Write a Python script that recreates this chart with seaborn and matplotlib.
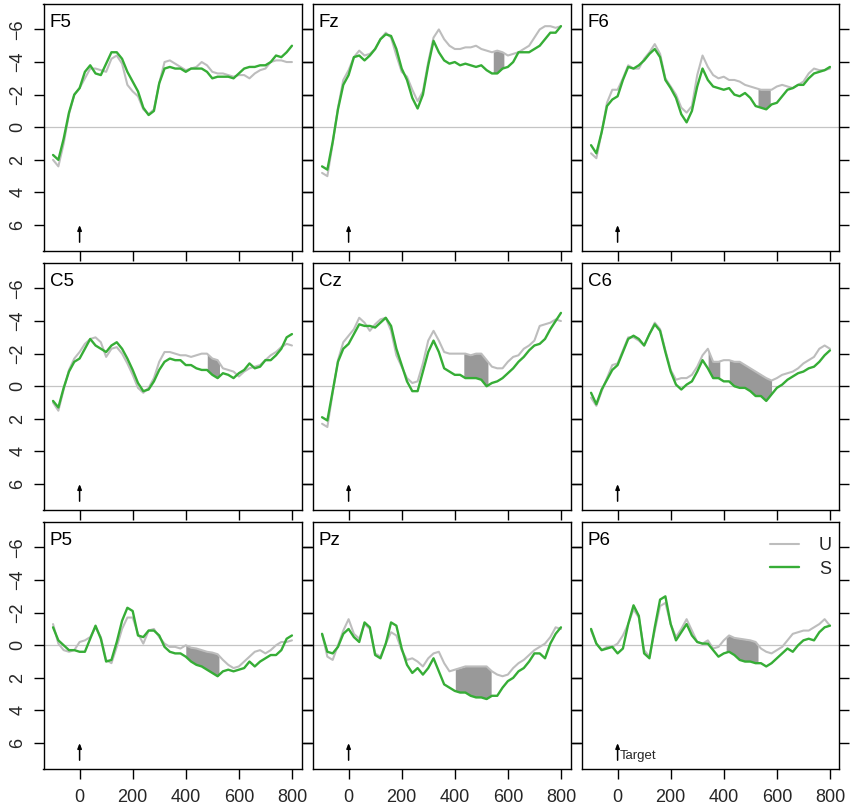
import numpy as np
import pandas as pd
import matplotlib
matplotlib.use("Agg")
import matplotlib.pyplot as plt
import seaborn as sns
from matplotlib.lines import Line2D

# ---------------- data ----------------
times = list(range(-100, 801, 20))
electrodes = ["F5", "Fz", "F6", "C5", "Cz", "C6", "P5", "Pz", "P6"]

F5_U = [2.0, 2.4, 1.0, -0.8, -2.0, -2.4,
        -3.0, -3.6, -3.6, -3.5, -3.4, -4.2, -4.4, -3.9, -2.6, -2.2,
        -1.9, -1.1, -0.8, -1.1, -2.7, -4.0, -4.1, -3.9, -3.7, -3.5,
        -3.6, -3.7, -4.0, -3.8, -3.4, -3.3, -3.3, -3.2, -3.1, -3.2,
        -3.2, -3.0, -3.3, -3.5, -3.6, -4.0, -4.1, -4.1, -4.0, -4.0]
F5_S = [1.7, 2.0, 0.7, -0.9, -2.0, -2.4,
        -3.4, -3.8, -3.3, -3.2, -3.9, -4.6, -4.6, -4.2, -3.4, -2.8,
        -2.2, -1.2, -0.75, -1.0, -2.7, -3.6, -3.7, -3.6, -3.6, -3.4,
        -3.6, -3.6, -3.6, -3.4, -3.0, -3.1, -3.1, -3.1, -3.0, -3.3,
        -3.6, -3.7, -3.7, -3.8, -3.8, -4.0, -4.4, -4.3, -4.6, -5.0]

Fz_U = [2.8, 3.0, 1.0, -1.2, -2.9, -3.5,
        -4.3, -4.7, -4.4, -4.5, -4.8, -5.4, -5.8, -5.5, -4.4, -3.4,
        -3.1, -2.3, -1.6, -2.2, -4.0, -5.5, -6.0, -5.4, -5.0, -4.8,
        -4.8, -4.9, -4.9, -5.0, -4.8, -4.7, -4.6, -4.7, -4.6, -4.4,
        -4.5, -4.6, -4.8, -5.0, -5.5, -6.0, -6.2, -6.2, -6.1, -6.2]
Fz_S = [2.4, 2.6, 0.9, -1.1, -2.6, -3.2,
        -4.3, -4.4, -4.1, -4.4, -4.8, -5.4, -5.7, -5.6, -4.8, -3.6,
        -2.9, -1.8, -1.15, -2.0, -3.8, -5.3, -4.6, -4.1, -3.9, -4.0,
        -3.8, -3.9, -3.8, -3.7, -3.8, -3.5, -3.3, -3.3, -3.6, -3.7,
        -4.0, -4.6, -4.6, -4.6, -4.8, -5.0, -5.4, -5.8, -5.8, -6.2]

F6_U = [1.6, 1.9, 0.3, -1.5, -2.3, -2.3,
        -3.0, -3.8, -3.6, -3.6, -4.2, -4.6, -5.1, -4.5, -3.0, -2.5,
        -2.0, -1.2, -0.9, -1.3, -3.2, -4.4, -3.7, -3.2, -3.0, -3.1,
        -2.9, -2.9, -2.8, -2.6, -2.5, -2.4, -2.3, -2.3, -2.3, -2.5,
        -2.6, -2.5, -2.4, -2.6, -2.8, -3.3, -3.6, -3.5, -3.5, -3.6]
F6_S = [1.1, 1.6, 0.3, -1.3, -1.7, -1.9,
        -2.9, -3.7, -3.6, -3.8, -4.1, -4.5, -4.8, -4.3, -2.9, -2.4,
        -1.8, -0.8, -0.3, -1.0, -2.5, -3.6, -2.9, -2.5, -2.4, -2.3,
        -2.4, -2.0, -1.9, -2.1, -1.8, -1.3, -1.2, -1.1, -1.4, -1.5,
        -1.9, -2.3, -2.4, -2.6, -2.6, -3.0, -3.3, -3.4, -3.5, -3.7]

C5_U = [1.0, 1.5, 0.2, -1.0, -1.7, -2.1,
        -2.6, -2.9, -3.0, -2.7, -1.8, -2.3, -2.4, -2.0, -1.4, -0.7,
        0.1, 0.4, 0.1, -0.5, -1.5, -2.1, -2.1, -2.0, -1.9, -1.9,
        -1.8, -1.9, -2.0, -2.0, -1.7, -1.6, -1.1, -1.0, -0.9, -0.6,
        -0.9, -1.1, -1.2, -1.3, -1.6, -1.9, -2.1, -2.4, -2.6, -2.5]
C5_S = [0.9, 1.3, 0.1, -0.9, -1.5, -1.7,
        -2.3, -2.9, -2.5, -2.3, -2.1, -2.5, -2.7, -2.3, -1.7, -1.0,
        -0.2, 0.3, 0.2, -0.3, -1.0, -1.5, -1.7, -1.6, -1.6, -1.3,
        -1.3, -1.1, -1.0, -1.0, -0.7, -0.5, -0.8, -0.7, -0.5, -0.8,
        -1.0, -1.4, -1.1, -1.2, -1.6, -1.6, -1.9, -2.3, -3.0, -3.2]

Cz_U = [2.3, 2.5, 0.4, -1.6, -2.7, -3.1,
        -3.5, -4.2, -3.9, -3.4, -3.8, -4.1, -4.2, -3.4, -1.9, -1.2,
        -0.5, -0.2, -0.3, -1.4, -2.8, -3.4, -2.8, -2.1, -2.0, -2.0,
        -2.0, -2.0, -1.9, -2.0, -2.0, -1.6, -1.2, -1.1, -1.1, -1.5,
        -1.8, -1.9, -2.3, -2.5, -2.8, -3.7, -3.8, -3.9, -4.1, -4.0]
Cz_S = [1.9, 2.1, 0.3, -1.5, -2.3, -2.6,
        -3.2, -3.8, -3.7, -3.7, -3.6, -3.9, -4.2, -3.7, -2.3, -1.3,
        -0.3, 0.3, 0.3, -0.9, -2.1, -2.8, -2.1, -1.1, -0.9, -0.7,
        -0.7, -0.5, -0.5, -0.5, -0.4, 0.0, -0.2, -0.3, -0.5, -0.8,
        -1.1, -1.5, -1.8, -2.2, -2.5, -2.6, -2.9, -3.5, -4.0, -4.5]

C6_U = [0.7, 1.2, 0.3, -0.5, -1.3, -1.4,
        -2.2, -3.0, -3.0, -2.8, -2.5, -3.2, -3.9, -3.5, -2.2, -1.0,
        -0.4, -0.5, -0.5, -0.7, -1.2, -1.9, -2.3, -1.5, -1.5, -1.6,
        -1.6, -1.5, -1.5, -1.3, -1.1, -0.9, -0.7, -0.5, -0.35, -0.5,
        -0.7, -0.8, -0.9, -1.1, -1.4, -1.6, -1.8, -2.3, -2.5, -2.3]
C6_S = [0.4, 1.1, 0.2, -0.4, -1.0, -1.3,
        -2.1, -2.9, -3.1, -2.9, -2.5, -3.2, -3.8, -3.4, -2.1, -0.9,
        -0.1, 0.2, -0.1, -0.3, -0.9, -1.6, -1.1, -0.5, -0.5, -0.3,
        -0.3, 0.0, 0.1, 0.1, 0.3, 0.6, 0.6, 0.9, 0.5, 0.1,
        -0.1, -0.4, -0.6, -0.8, -0.9, -1.1, -1.2, -1.5, -1.9, -2.2]

P5_U = [-1.3, -0.1, 0.3, 0.4, 0.3, -0.2,
        -0.3, -0.5, -1.1, -0.5, 0.9, 1.1, 0.1, -1.0, -1.7, -1.7,
        -0.7, -0.1, -0.9, -1.0, -0.5, -0.1, 0.1, 0.1, 0.2, 0.0,
        0.15, 0.2, 0.3, 0.4, 0.45, 0.55, 0.9, 1.2, 1.4, 1.3,
        1.0, 0.7, 0.4, 0.3, 0.5, 0.3, 0.0, -0.2, -0.2, -0.3]
P5_S = [-1.1, -0.3, 0.0, 0.3, 0.3, 0.4,
        0.4, -0.4, -1.2, -0.4, 1.0, 0.9, -0.2, -1.5, -2.3, -2.1,
        -0.6, -0.5, -0.9, -0.9, -0.6, 0.1, 0.4, 0.5, 0.5, 0.7,
        1.0, 1.2, 1.3, 1.5, 1.7, 1.9, 1.6, 1.5, 1.6, 1.5,
        1.4, 1.0, 1.3, 1.0, 0.8, 0.6, 0.6, 0.3, -0.4, -0.6]

Pz_U = [-0.7, 0.7, 0.9, 0.0, -0.9, -1.6,
        -0.7, -0.4, -1.3, -1.0, 0.5, 0.7, -0.1, -0.8, -0.6, 0.3,
        0.9, 0.8, 1.0, 1.3, 0.8, 0.5, 0.4, 1.1, 1.6, 1.5,
        1.4, 1.3, 1.3, 1.3, 1.3, 1.3, 1.6, 1.8, 1.9, 1.8,
        1.4, 1.1, 0.9, 0.6, 0.3, 0.1, -0.1, -0.5, -1.1, -1.0]
Pz_S = [-0.7, 0.4, 0.5, 0.1, -0.7, -1.0,
        -0.5, -0.2, -1.4, -1.1, 0.6, 0.8, -0.1, -1.4, -1.2, 0.2,
        1.2, 1.7, 1.4, 1.8, 1.4, 0.8, 1.6, 2.4, 2.6, 2.8,
        2.9, 2.9, 3.1, 3.2, 3.2, 3.3, 3.1, 3.1, 2.6, 2.2,
        2.0, 1.6, 1.4, 1.0, 0.5, 0.5, 0.8, -0.1, -0.7, -1.1]

P6_U = [-0.9, -0.1, 0.3, 0.1, 0.1, -0.1,
        -0.6, -1.3, -2.2, -1.7, 0.3, 0.7, -0.9, -2.4, -2.6, -1.3,
        -0.5, -1.0, -1.6, -0.9, -0.2, -0.1, -0.3, 0.2, 0.1, -0.3,
        -0.6, -0.45, -0.4, -0.35, -0.3, -0.2, 0.2, 0.4, 0.5, 0.3,
        0.1, -0.3, -0.7, -0.8, -0.9, -0.9, -1.1, -1.3, -1.6, -1.2]
P6_S = [-1.0, -0.1, 0.3, 0.2, 0.1, 0.5,
        0.2, -1.3, -2.45, -1.8, 0.5, 0.8, -1.1, -2.8, -3.0, -1.3,
        -0.3, -0.8, -1.3, -0.6, -0.2, -0.1, -0.1, 0.3, 0.7, 0.5,
        0.4, 0.6, 0.9, 1.0, 1.0, 1.1, 1.1, 1.3, 1.1, 0.8,
        0.5, 0.2, 0.4, 0.0, -0.3, -0.4, -0.3, -0.8, -1.1, -1.2]

# significant intervals (ms)
sig_F5 = []
sig_Fz = [(545, 585)]
sig_F6 = [(529, 575)]
sig_C5 = [(481, 527)]
sig_Cz = [(434, 525)]
sig_C6 = [(341, 385), (421, 580)]
sig_P5 = [(400, 525)]
sig_Pz = [(402, 537)]
sig_P6 = [(409, 529)]

x_ticks = [0, 200, 400, 600, 800]
y_ticks = [-6, -4, -2, 0, 2, 4, 6]
cond_labels = ["U", "S"]

series = {
    "F5": (F5_U, F5_S, sig_F5), "Fz": (Fz_U, Fz_S, sig_Fz), "F6": (F6_U, F6_S, sig_F6),
    "C5": (C5_U, C5_S, sig_C5), "Cz": (Cz_U, Cz_S, sig_Cz), "C6": (C6_U, C6_S, sig_C6),
    "P5": (P5_U, P5_S, sig_P5), "Pz": (Pz_U, Pz_S, sig_Pz), "P6": (P6_U, P6_S, sig_P6),
}

# ---------------- style ----------------
sns.set_style("ticks")
plt.rcParams["font.family"] = ["Liberation Sans", "DejaVu Sans"]
plt.rcParams["axes.unicode_minus"] = True

COL_U = "#BDBDBD"
COL_S = "#36AD36"
COL_FILL = "#999999"

W, H = 850, 811
fig = plt.figure(figsize=(W / 100, H / 100), dpi=100)

lefts = [43.5, 312.5, 581.5]
tops = [4, 263, 522]
aw, ah = 258, 246.5

t_arr = np.array(times, dtype=float)

for idx, name in enumerate(electrodes):
    r, c = divmod(idx, 3)
    ax = fig.add_axes([lefts[c] / W, (H - tops[r] - ah) / H, aw / W, ah / H])
    U, S, sig = series[name]
    df = pd.DataFrame({"time": times * 2,
                       "amp": list(U) + list(S),
                       "cond": ["U"] * len(U) + ["S"] * len(S)})

    ax.axhline(0, color="#C4C4C4", lw=0.9, zorder=1)

    for (a, b) in sig:
        tt = np.linspace(a, b, 60)
        uu = np.interp(tt, t_arr, U)
        ss = np.interp(tt, t_arr, S)
        ax.fill_between(tt, uu, ss, color=COL_FILL, lw=0, zorder=2)

    sns.lineplot(data=df[df.cond == "U"], x="time", y="amp", color=COL_U, lw=1.5,
                 ax=ax, estimator=None, sort=False, legend=False, zorder=3)
    sns.lineplot(data=df[df.cond == "S"], x="time", y="amp", color=COL_S, lw=1.7,
                 ax=ax, estimator=None, sort=False, legend=False, zorder=4)

    ax.set_xlim(-136, 836)
    ax.set_ylim(7.56, -7.56)
    ax.set_xticks(x_ticks)
    ax.set_yticks(y_ticks)
    ax.set_xlabel("")
    ax.set_ylabel("")
    for sp in ax.spines.values():
        sp.set_visible(True)
        sp.set_linewidth(1.0)
        sp.set_color("black")
    ax.tick_params(axis="both", direction="out", length=7.5, width=1.0,
                   color="black", labelsize=13)
    ax.tick_params(axis="y", right=True, left=True, labelright=False,
                   labelleft=(c == 0), pad=5)
    ax.tick_params(axis="x", bottom=True, top=False, labelbottom=(r == 2), pad=7)
    if c == 0:
        for lab in ax.get_yticklabels():
            lab.set_rotation(90)
            lab.set_va("center")

    ax.text(0.024, 0.958, name, transform=ax.transAxes, ha="left", va="top",
            fontsize=13.5, color="black")

    ax.annotate("", xy=(0, 6.0), xytext=(0, 7.05),
                arrowprops=dict(arrowstyle="-|>,head_length=0.3,head_width=0.12",
                                color="black", lw=1.1, shrinkA=0, shrinkB=0))
    if name == "P6":
        ax.text(9, 6.8, "Target", ha="left", va="center", fontsize=9.5)
        handles = [Line2D([0], [0], color=COL_U, lw=1.5),
                   Line2D([0], [0], color=COL_S, lw=1.7)]
        ax.legend(handles, cond_labels, loc="upper right", bbox_to_anchor=(1.03, 1.0),
                  frameon=False, handlelength=1.6, handletextpad=1.1,
                  labelspacing=0.35, borderaxespad=0.45, fontsize=13)

fig.savefig("out.png", dpi=100)
